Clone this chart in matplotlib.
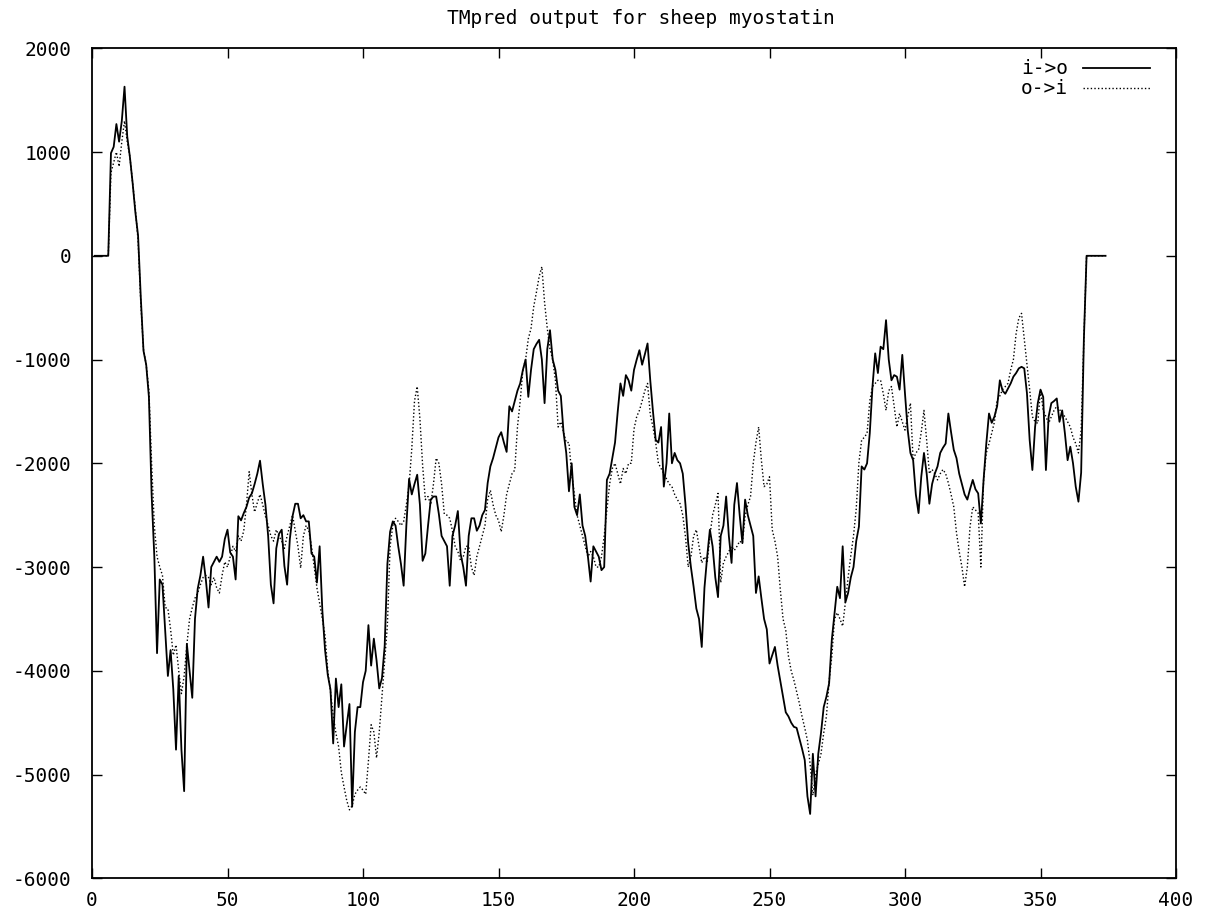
import numpy as np
import matplotlib
matplotlib.use("Agg")
import matplotlib.pyplot as plt
from matplotlib.lines import Line2D

plt.rcParams['font.family'] = ['DejaVu Sans Mono', 'DejaVu Sans']
plt.rcParams['axes.unicode_minus'] = False

title = "TMpred output for sheep myostatin"
series_names = ["i->o", "o->i"]

residues = list(range(1, 375))

i_to_o = [
    0, 0, 0, 0, 0, 0, 990, 1050, 1270, 1100,
    1300, 1630, 1150, 950, 700, 420, 195, -400, -915, -1050,
    -1360, -2300, -2900, -3830, -3120, -3170, -3610, -4050, -3800, -4180,
    -4760, -4050, -4760, -5160, -3740, -4000, -4260, -3500, -3210, -3080,
    -2900, -3120, -3390, -3000, -2950, -2900, -2950, -2900, -2730, -2640,
    -2860, -2900, -3120, -2510, -2550, -2480, -2420, -2330, -2290, -2200,
    -2100, -1975, -2200, -2400, -2700, -3170, -3350, -2820, -2680, -2640,
    -2990, -3170, -2730, -2510, -2390, -2390, -2530, -2500, -2560, -2560,
    -2870, -2900, -3150, -2800, -3420, -3800, -4040, -4180, -4700, -4075,
    -4350, -4130, -4730, -4520, -4320, -5310, -4590, -4350, -4350, -4110,
    -4000, -3560, -3950, -3690, -3900, -4170, -4070, -3760, -2970, -2660,
    -2560, -2600, -2800, -2970, -3180, -2600, -2150, -2300, -2200, -2110,
    -2400, -2940, -2870, -2600, -2350, -2320, -2320, -2490, -2700, -2750,
    -2800, -3180, -2700, -2600, -2460, -2870, -3000, -3180, -2700, -2530,
    -2530, -2650, -2600, -2500, -2450, -2190, -2030, -1950, -1850, -1750,
    -1700, -1800, -1890, -1450, -1500, -1400, -1300, -1230, -1100, -1000,
    -1360, -1100, -900, -850, -810, -1000, -1420, -900, -717, -1000,
    -1100, -1300, -1350, -1700, -1900, -2270, -2000, -2420, -2500, -2300,
    -2600, -2700, -2900, -3140, -2800, -2850, -2900, -3030, -3000, -2160,
    -2100, -1950, -1800, -1500, -1230, -1350, -1150, -1200, -1300, -1100,
    -1000, -910, -1050, -950, -845, -1200, -1500, -1775, -1800, -1650,
    -2225, -2000, -1520, -2000, -1900, -1970, -2000, -2100, -2400, -2770,
    -3000, -3190, -3400, -3500, -3770, -3200, -2900, -2640, -2800, -3100,
    -3290, -2700, -2600, -2320, -2700, -2960, -2400, -2190, -2500, -2770,
    -2350, -2500, -2600, -2700, -3250, -3090, -3300, -3500, -3600, -3930,
    -3850, -3770, -3950, -4100, -4250, -4400, -4440, -4500, -4540, -4550,
    -4650, -4750, -4860, -5210, -5380, -4800, -5210, -4800, -4600, -4350,
    -4250, -4120, -3700, -3450, -3190, -3300, -2800, -3340, -3250, -3100,
    -3000, -2750, -2610, -2030, -2060, -2000, -1710, -1260, -940, -1130,
    -876, -900, -620, -1000, -1200, -1150, -1165, -1290, -955, -1330,
    -1680, -1900, -1970, -2300, -2480, -2130, -1900, -2100, -2390, -2200,
    -2100, -2030, -1900, -1850, -1810, -1520, -1700, -1870, -1950, -2100,
    -2200, -2300, -2350, -2250, -2160, -2250, -2290, -2580, -2160, -1810,
    -1520, -1610, -1550, -1450, -1200, -1300, -1330, -1280, -1230, -1165,
    -1130, -1085, -1070, -1085, -1325, -1775, -2065, -1650, -1420, -1290,
    -1360, -2065, -1550, -1420, -1400, -1375, -1600, -1490, -1710, -1970,
    -1840, -2000, -2225, -2370, -2090, -810, 0, 0, 0, 0,
    0, 0, 0, 0,
]

o_to_i = [
    0, 0, 0, 0, 0, 0, 800, 900, 1000, 860,
    1100, 1300, 1100, 950, 700, 450, 150, -450, -900, -1050,
    -1300, -2000, -2600, -2900, -3000, -3080, -3390, -3400, -3600, -3850,
    -3750, -4000, -4220, -4050, -3750, -3500, -3390, -3300, -3250, -3170,
    -3100, -3080, -3100, -3170, -3100, -3200, -3250, -3080, -2950, -3000,
    -2900, -2800, -2850, -2700, -2750, -2650, -2400, -2080, -2300, -2470,
    -2380, -2300, -2400, -2510, -2600, -2700, -2750, -2640, -2700, -2750,
    -2820, -2700, -2600, -2500, -2650, -2800, -3010, -2700, -2600, -2650,
    -2800, -3000, -3200, -3350, -3500, -3660, -4000, -4200, -4430, -4600,
    -4730, -4980, -5120, -5250, -5340, -5300, -5190, -5150, -5120, -5150,
    -5190, -4870, -4520, -4590, -4840, -4590, -4250, -3900, -3560, -2800,
    -2600, -2530, -2560, -2600, -2560, -2400, -2210, -1860, -1400, -1260,
    -1570, -2020, -2350, -2320, -2400, -2200, -1950, -2000, -2200, -2490,
    -2500, -2530, -2650, -2800, -2850, -2940, -2900, -2800, -2800, -3000,
    -3080, -2900, -2800, -2700, -2600, -2350, -2260, -2400, -2500, -2550,
    -2660, -2500, -2300, -2200, -2100, -2065, -1650, -1400, -1100, -1000,
    -800, -700, -490, -350, -200, -105, -450, -700, -900, -1000,
    -1200, -1650, -1600, -1700, -1800, -1800, -2100, -2300, -2500, -2600,
    -2700, -2800, -2900, -2850, -2900, -3000, -3000, -2900, -2700, -2450,
    -2200, -2050, -2000, -2100, -2200, -2050, -2100, -2000, -2000, -1670,
    -1550, -1490, -1400, -1300, -1230, -1530, -1650, -1800, -2000, -2050,
    -2100, -2150, -2200, -2225, -2300, -2350, -2390, -2500, -2710, -3000,
    -2900, -2700, -2640, -2800, -2960, -2900, -2960, -2700, -2500, -2400,
    -2290, -3150, -2960, -2900, -2850, -2800, -2840, -2800, -2750, -2770,
    -2510, -2400, -2320, -2000, -1800, -1650, -1970, -2225, -2200, -2130,
    -2640, -2750, -2900, -3220, -3500, -3610, -3860, -4000, -4090, -4200,
    -4310, -4440, -4550, -4670, -4900, -5200, -5000, -4900, -4800, -4600,
    -4440, -4100, -3860, -3500, -3440, -3500, -3570, -3340, -3100, -2890,
    -2700, -2440, -1990, -1775, -1750, -1710, -1400, -1260, -1230, -1200,
    -1200, -1330, -1490, -1300, -1260, -1450, -1650, -1520, -1600, -1680,
    -1550, -1420, -1970, -1900, -1870, -1700, -1490, -1780, -2100, -2060,
    -2100, -2160, -2100, -2060, -2100, -2190, -2300, -2420, -2670, -2850,
    -3000, -3190, -3000, -2610, -2420, -2450, -2480, -3000, -2160, -1900,
    -1810, -1710, -1600, -1390, -1350, -1290, -1260, -1230, -1100, -1000,
    -750, -600, -555, -800, -1036, -1290, -1550, -1600, -1615, -1290,
    -1490, -1550, -1615, -1550, -1490, -1450, -1480, -1520, -1550, -1600,
    -1650, -1750, -1810, -1900, -1680, -810, 0, 0, 0, 0,
    0, 0, 0, 0,
]

x_ticks = [0, 50, 100, 150, 200, 250, 300, 350, 400]
y_ticks = [-6000, -5000, -4000, -3000, -2000, -1000, 0, 1000, 2000]

W, H = 1212, 914
FS = 14

fig = plt.figure(figsize=(W / 100, H / 100), dpi=100)
ax = fig.add_axes([92 / W, 1 - 878.3 / H, (1176 - 92) / W, (878.3 - 48.3) / H])

solid_style = dict(color='black', lw=1.3)
dotted_style = dict(color='black', lw=1.0, linestyle=(0, (1, 1.6)))

ax.plot(residues, i_to_o, **solid_style)
ax.plot(residues, o_to_i, **dotted_style)

ax.set_xlim(0, 400)
ax.set_ylim(-6000, 2000)
ax.set_xticks(x_ticks)
ax.set_yticks(y_ticks)
ax.set_xticklabels([str(t) for t in x_ticks])
ax.set_yticklabels([str(t) for t in y_ticks])
ax.tick_params(direction='in', length=7, width=1.0, top=True, right=True,
               labelsize=FS, colors='black')
ax.tick_params(axis='x', pad=9)
ax.tick_params(axis='y', pad=15)
for s in ax.spines.values():
    s.set_linewidth(1.3)
    s.set_color('black')

# key (legend) in the gnuplot layout: label right-aligned, sample line to its right
for row, (name, style) in enumerate(zip(series_names, [solid_style, dotted_style])):
    yc = 1 - (68 + 20 * row) / H
    fig.text(1068 / W, yc, name, ha='right', va='center', fontsize=FS)
    fig.add_artist(Line2D([1083 / W, 1150 / W], [yc, yc], transform=fig.transFigure, **style))

fig.text(641 / W, 1 - 18 / H, title, ha='center', va='center', fontsize=FS)

fig.savefig('out.png', dpi=100, facecolor='white')
